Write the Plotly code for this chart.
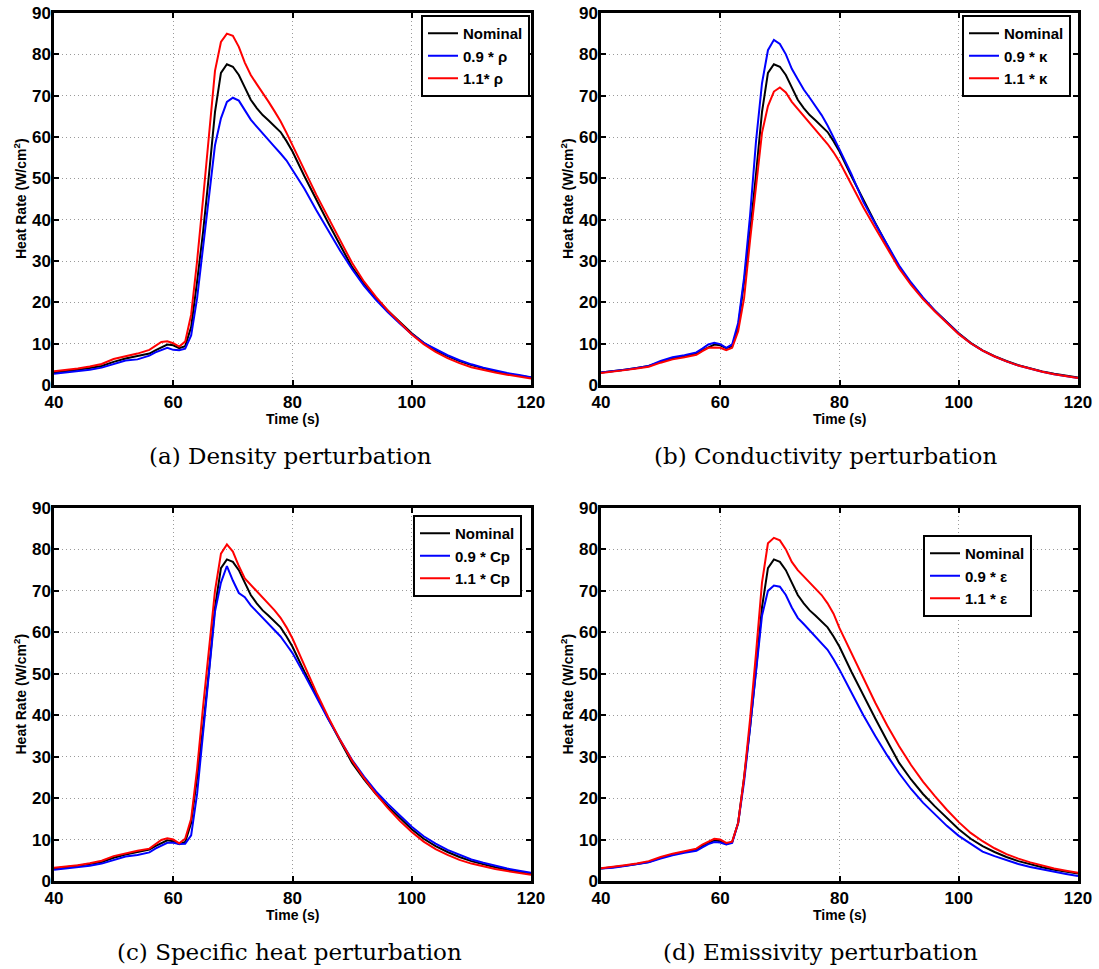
import plotly.graph_objects as go

# ---------------- data ----------------
time_s = [40, 42, 44, 46, 48, 50, 52, 54, 56, 57, 58, 59, 60, 61, 62, 63, 64, 65, 66, 67, 68,
          69, 70, 71, 72, 73, 74, 75, 76, 77, 78, 79, 80, 82, 84, 86, 88, 90, 92, 94, 96, 98,
          100, 102, 104, 106, 108, 110, 112, 114, 116, 118, 120]

nominal = [3.0, 3.3, 3.7, 4.1, 4.6, 5.6, 6.4, 7.0, 7.6, 8.4, 9.2, 9.8, 9.6, 8.9, 9.4, 14, 25, 37, 51, 66, 75.5,
           77.6, 77.0, 75.0, 72.0, 69.0, 67.0, 65.3, 64.0, 62.7, 61.2, 59.0, 56.5, 50.5, 44.8, 39.2, 33.8, 28.5, 24.5, 21.0, 18.0, 15.2,
           12.5, 10.2, 8.4, 7.0, 5.8, 4.8, 4.0, 3.3, 2.7, 2.2, 1.8]

# (a) density
rho_09 = [2.7, 3.0, 3.3, 3.7, 4.2, 5.1, 5.9, 6.2, 7.1, 7.9, 8.5, 9.0, 8.5, 8.4, 8.8, 12, 21, 33, 45, 58, 64.5,
          68.5, 69.5, 68.8, 66.5, 64.2, 62.5, 60.8, 59.3, 57.6, 56.0, 54.3, 52.0, 47.5, 42.3, 37.3, 32.5, 28.0, 24.0, 20.6, 17.6, 14.9,
          12.3, 10.2, 8.6, 7.2, 6.0, 5.0, 4.2, 3.5, 2.9, 2.4, 1.9]
rho_11 = [3.3, 3.6, 4.0, 4.5, 5.1, 6.3, 6.9, 7.6, 8.5, 9.4, 10.4, 10.6, 10.1, 9.3, 10.5, 17, 30, 45, 60, 76, 83.0,
          85.0, 84.5, 81.8, 78.0, 75.0, 72.8, 70.8, 68.5, 66.2, 63.8, 61.0, 58.0, 52.0, 46.0, 40.5, 35.0, 29.5, 25.0, 21.3, 18.0, 15.0,
          12.2, 9.9, 8.0, 6.5, 5.3, 4.3, 3.6, 3.0, 2.5, 2.0, 1.6]

# (b) conductivity
k_09 = [3.0, 3.3, 3.7, 4.1, 4.6, 5.8, 6.7, 7.2, 7.9, 8.8, 9.8, 10.2, 9.9, 9.0, 9.8, 15, 26, 41, 59, 73, 81.0,
        83.5, 82.5, 80.0, 76.5, 74.0, 71.5, 69.5, 67.5, 65.3, 62.8, 60.0, 57.0, 51.0, 44.3, 39.0, 33.9, 28.9, 24.8, 21.2, 18.0, 15.1,
        12.4, 10.1, 8.3, 6.9, 5.7, 4.7, 3.9, 3.2, 2.6, 2.1, 1.7]
k_11 = [2.9, 3.2, 3.6, 4.0, 4.4, 5.4, 6.2, 6.7, 7.3, 8.2, 9.0, 9.1, 9.0, 8.4, 9.0, 13, 21, 35, 48, 61, 67.5,
        71.0, 72.0, 70.8, 68.5, 66.8, 65.0, 63.3, 61.7, 60.0, 58.3, 56.3, 54.0, 48.5, 43.0, 38.0, 33.0, 28.2, 24.2, 20.8, 17.8, 15.0,
        12.3, 10.1, 8.3, 6.9, 5.7, 4.7, 3.9, 3.2, 2.6, 2.1, 1.7]

# (c) specific heat
cp_09 = [2.7, 3.0, 3.3, 3.7, 4.2, 5.1, 5.9, 6.3, 6.9, 7.8, 8.6, 9.2, 9.2, 8.9, 9.0, 11, 21, 36, 51, 65, 72.0,
         76.0, 72.5, 69.5, 68.5, 66.5, 65.0, 63.5, 62.0, 60.5, 59.0, 57.0, 55.0, 49.8, 44.3, 39.0, 34.0, 29.2, 25.2, 21.6, 18.6, 15.8,
         13.1, 10.8, 9.0, 7.5, 6.3, 5.2, 4.4, 3.7, 3.0, 2.5, 2.0]
cp_11 = [3.2, 3.5, 3.8, 4.3, 4.9, 6.0, 6.7, 7.3, 7.8, 8.8, 9.9, 10.3, 10.0, 9.1, 10.2, 15, 27, 42, 56, 70, 79.0,
         81.2, 79.5, 76.0, 73.0, 71.5, 70.0, 68.5, 67.0, 65.3, 63.5, 61.2, 58.5, 52.0, 45.5, 39.5, 34.0, 29.0, 24.8, 21.0, 17.6, 14.5,
         11.8, 9.5, 7.7, 6.3, 5.1, 4.2, 3.5, 2.9, 2.4, 1.9, 1.5]

# (d) emissivity
eps_09 = [3.0, 3.2, 3.6, 4.0, 4.5, 5.4, 6.2, 6.8, 7.3, 8.1, 8.9, 9.4, 9.3, 8.8, 9.2, 14, 24, 37, 50, 64, 70.0,
          71.3, 71.0, 69.0, 66.0, 63.5, 62.0, 60.5, 59.0, 57.5, 55.8, 53.5, 51.0, 45.5, 40.0, 35.0, 30.3, 26.0, 22.2, 18.9, 16.0, 13.3,
          10.9, 8.9, 7.1, 6.0, 5.0, 4.1, 3.4, 2.8, 2.2, 1.7, 1.2]
eps_11 = [3.1, 3.4, 3.8, 4.2, 4.8, 5.8, 6.6, 7.2, 7.8, 8.8, 9.6, 10.2, 10.0, 9.2, 9.5, 14, 25, 39, 55, 72, 81.5,
          82.8, 82.2, 80.0, 77.0, 75.0, 73.5, 72.0, 70.5, 69.0, 67.0, 64.5, 61.0, 55.0, 48.8, 43.0, 37.5, 32.5, 28.0, 24.0, 20.5, 17.2,
          14.2, 11.6, 9.6, 7.9, 6.5, 5.4, 4.5, 3.7, 3.0, 2.5, 2.0]

panels = [
    ("(a) Density perturbation", ["Nominal", "0.9 * ρ", "1.1* ρ"], [nominal, rho_09, rho_11]),
    ("(b) Conductivity perturbation", ["Nominal", "0.9 * κ", "1.1 * κ"], [nominal, k_09, k_11]),
    ("(c) Specific heat perturbation", ["Nominal", "0.9 * Cp", "1.1 * Cp"], [nominal, cp_09, cp_11]),
    ("(d) Emissivity perturbation", ["Nominal", "0.9 * ε", "1.1 * ε"], [nominal, eps_09, eps_11]),
]
x_ticks = [40, 60, 80, 100, 120]
y_ticks = [0, 10, 20, 30, 40, 50, 60, 70, 80, 90]

# ---------------- layout geometry (pixels) ----------------
W, H = 1099, 969
colors = ["#000000", "#0000ff", "#ff0000"]
SANS = "Liberation Sans, Arial, sans-serif"
# (left, right, top, bottom) in px
boxes = [(54, 531, 13, 385), (601, 1078, 13, 385), (54, 531, 508, 881), (601, 1078, 508, 881)]
caption_pos = [(291, 456), (825, 456), (289, 952), (820, 952)]
legend_pos = [(530, 15), (1071, 15), (522, 515), (1032, 535)]

fig = go.Figure()
layout = dict(
    width=W, height=H, margin=dict(l=0, r=0, t=0, b=0, autoexpand=False),
    paper_bgcolor="white", plot_bgcolor="white",
    font=dict(family=SANS, color="black"),
    annotations=[],
)

tickfont = dict(family=SANS, size=17, color="black")

for i, (caption, names, series) in enumerate(panels):
    n = i + 1
    xa = "x" if n == 1 else f"x{n}"
    ya = "y" if n == 1 else f"y{n}"
    lg = "legend" if n == 1 else f"legend{n}"
    for name, vals, c in zip(names, series, colors):
        fig.add_trace(go.Scatter(x=time_s, y=vals, mode="lines", name=f"<b>{name}</b>",
                                 line=dict(color=c, width=2),
                                 xaxis=xa, yaxis=ya, legend=lg, showlegend=True))
    l, r, t, b = boxes[i]
    axcommon = dict(showline=True, mirror="ticks", linecolor="black", linewidth=2.5,
                    ticks="inside", ticklen=5, tickwidth=2, tickcolor="black",
                    showgrid=True, gridcolor="#9a9a9a", griddash="1px,3px", gridwidth=1,
                    zeroline=False, tickfont=tickfont, automargin=False)
    layout["xaxis" if n == 1 else f"xaxis{n}"] = dict(
        axcommon, domain=[l / W, r / W], range=[40, 120], tickvals=x_ticks,
        ticktext=[f"<b>{v}</b>" for v in x_ticks], anchor=ya, ticklabelstandoff=0)
    layout["yaxis" if n == 1 else f"yaxis{n}"] = dict(
        axcommon, domain=[1 - b / H, 1 - t / H], range=[0, 90], tickvals=y_ticks,
        ticktext=[f"<b>{v}</b>" for v in y_ticks], anchor=xa, ticklabelstandoff=-3)
    lx, ly = legend_pos[i]
    layout[lg] = dict(x=lx / W, y=1 - ly / H, xanchor="right", yanchor="top",
                      xref="paper", yref="paper",
                      bordercolor="black", borderwidth=2, bgcolor="white",
                      font=dict(family=SANS, size=15, color="black"),
                      tracegroupgap=0, itemwidth=30)
    # axis titles
    layout["annotations"].append(dict(
        text="<b>Time (s)</b>", x=(l + r) / 2 / W, y=1 - (b + 34) / H,
        xref="paper", yref="paper", showarrow=False, xanchor="center", yanchor="middle",
        font=dict(size=14, family=SANS, color="black")))
    layout["annotations"].append(dict(
        text="<b>Heat Rate (W/cm<sup>2</sup>)</b>", x=(l - 34) / W,
        y=1 - (t + b) / 2 / H, xref="paper", yref="paper", showarrow=False, textangle=-90,
        xanchor="center", yanchor="middle",
        font=dict(size=14, family=SANS, color="black")))
    cx, cy = caption_pos[i]
    layout["annotations"].append(dict(
        text=caption, x=cx / W, y=1 - cy / H, xref="paper", yref="paper", showarrow=False,
        xanchor="center", yanchor="middle",
        font=dict(size=23, family="DejaVu Serif, serif", color="black")))

fig.update_layout(**layout)
fig.write_html("out.html", config={"displayModeBar": False},
               post_script="document.body.style.margin='0';document.body.style.overflow='hidden';")
